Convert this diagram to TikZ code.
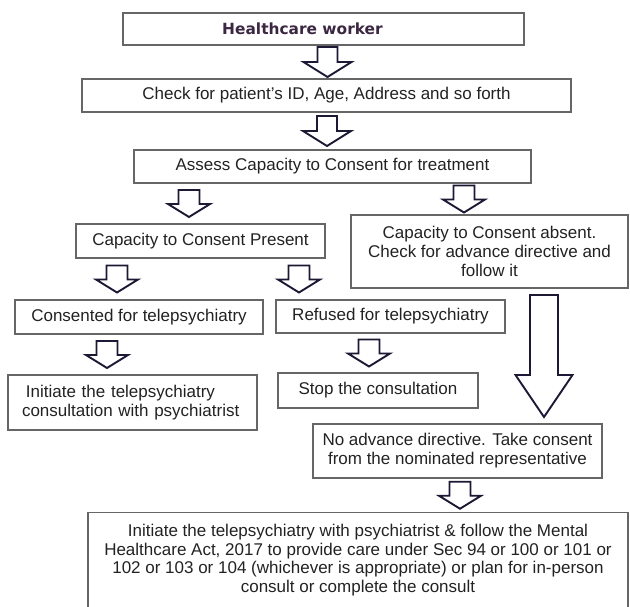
\documentclass[tikz,border=0pt]{standalone}
\usepackage{fontspec}
\setmainfont{Liberation Sans}
\newfontfamily\hwfont{DejaVu Sans}
\usetikzlibrary{calc}
\definecolor{boxgray}{HTML}{666666}
\definecolor{arrownavy}{HTML}{1B1933}
\definecolor{txtgray}{HTML}{222222}
\definecolor{hwpurple}{HTML}{3B2742}
\tikzset{x=1pt, y=-1pt, % pixel units, y goes down
box/.style={draw=boxgray, line width=1.6pt, inner sep=0pt, align=center, text=txtgray, font=\fontsize{17}{19}\selectfont}, % the plain boxes
fat/.style n args={4}{draw=arrownavy, fill=white, line width=1.9pt, line join=miter,
  to path={let \p1=(\tikztostart), \p2=(\tikztotarget), \p3=($(\p1)!.5!(\p2)$) in
  (\x1-#2,\y3+#1/2) -- (\x1+#2,\y3+#1/2) -- (\x1+#2,\y3-#1/2+#4) -- (\x1+#3,\y3-#1/2+#4)
  -- (\x1,\y3-#1/2) -- (\x1-#3,\y3-#1/2+#4) -- (\x1-#2,\y3-#1/2+#4) -- cycle}}, % block arrow, sits in the middle of the gap
toparrow/.style={fat={30pt}{10pt}{24pt}{15pt}},
smallarrow/.style={fat={27pt}{10.5pt}{21pt}{13pt}},
bigarrow/.style={fat={122pt}{14pt}{28.5pt}{42pt}},
}

\begin{document}
\begin{tikzpicture}
  \useasboundingbox (0,0) rectangle (630,606);
  \clip (0,0) rectangle (630,606);

  \node[box, minimum width=401pt, minimum height=32pt, text=hwpurple, font=\hwfont\bfseries\fontsize{15.4}{18}\selectfont] (hw) at (323.5,29) {Healthcare worker\hspace*{42pt}};
  \node[box, minimum width=489pt, minimum height=33pt] (check) at (326.5,95.5) {Check for patient’s ID, Age, Address and so forth};
  \node[box, minimum width=397pt, minimum height=33pt] (assess) at (332.5,166.5) {Assess Capacity to Consent for treatment};
  \node[box, minimum width=249pt, minimum height=34pt] (present) at (200.5,241) {Capacity to Consent Present};
  \node[box, minimum width=277pt, minimum height=73pt] (absent) at (489.5,251.5) {Capacity to Consent absent.\\ Check for advance directive and\\ follow it};
  \node[box, minimum width=248pt, minimum height=34pt] (consent) at (139,317) {Consented for telepsychiatry};
  \node[box, minimum width=229pt, minimum height=33pt] (refuse) at (390.5,316.5) {Refused for telepsychiatry};
  \node[box, minimum width=249pt, minimum height=55pt, text width=221pt, align=left] (initiate) at (132.5,402.5) {\hspace*{4pt}Initiate the telepsychiatry\\ consultation with psychiatrist};
  \node[box, minimum width=200pt, minimum height=35pt] (stop) at (378,390.5) {Stop the consultation};
  \node[box, minimum width=289pt, minimum height=54pt] (nodir) at (457.5,451) {No advance directive. Take consent\\ from the nominated representative};
  \node[box, minimum width=540pt, minimum height=95pt, font=\fontsize{17}{18.5}\selectfont] (mha) at (358,560) {Initiate the telepsychiatry with psychiatrist \& follow the Mental\\ Healthcare Act, 2017 to provide care under Sec 94 or 100 or 101 or\\ 102 or 103 or 104 (whichever is appropriate) or plan for in-person\\ consult or complete the consult};

  \draw[toparrow] ([xshift=4pt]hw.south) to (check.north);
  \draw[toparrow] ([xshift=0.5pt]check.south) to (assess.north);
  \draw[smallarrow] ([xshift=-143.5pt]assess.south) to (present.north);
  \draw[smallarrow] ([xshift=131.5pt]assess.south) to (absent.north);
  \draw[smallarrow] ([xshift=-83.5pt]present.south) to (consent.north);
  \draw[smallarrow] ([xshift=98.5pt]present.south) to (refuse.north);
  \draw[smallarrow] ([xshift=-32pt]consent.south) to (initiate.north);
  \draw[smallarrow] ([xshift=-21.5pt]refuse.south) to (stop.north);
  \draw[bigarrow] ([xshift=54.5pt]absent.south) to (nodir.north);
  \draw[smallarrow] ([xshift=2.5pt]nodir.south) to (mha.north);

\end{tikzpicture}
\end{document}
